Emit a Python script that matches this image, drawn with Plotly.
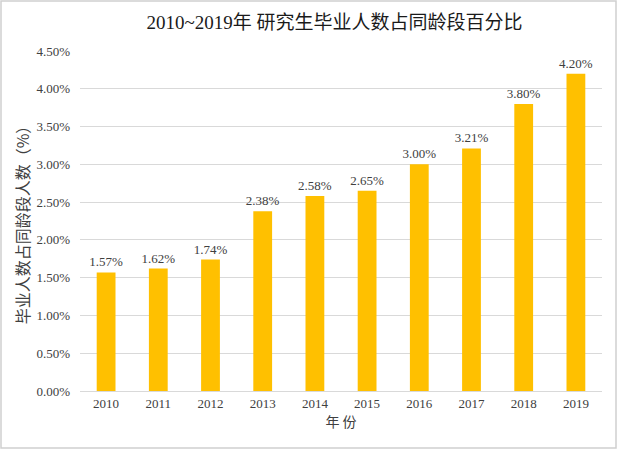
import plotly.graph_objects as go

years = ["2010", "2011", "2012", "2013", "2014", "2015", "2016", "2017", "2018", "2019"]
values = [1.57, 1.62, 1.74, 2.38, 2.58, 2.65, 3.00, 3.21, 3.80, 4.20]
labels = ["1.57%", "1.62%", "1.74%", "2.38%", "2.58%", "2.65%", "3.00%", "3.21%", "3.80%", "4.20%"]
y_ticks = [0, 0.5, 1.0, 1.5, 2.0, 2.5, 3.0, 3.5, 4.0, 4.5]
y_tick_text = ["0.00%", "0.50%", "1.00%", "1.50%", "2.00%", "2.50%", "3.00%", "3.50%", "4.00%", "4.50%"]

FONT = "Liberation Serif, Times New Roman, Noto Sans CJK SC, serif"
CJK = "Noto Sans CJK SC"

fig = go.Figure(go.Bar(
    x=years, y=values, text=labels, textposition="outside",
    textfont=dict(family=FONT, size=13, color="#404040"),
    constraintext="none",
    marker=dict(color="#FFC000", line=dict(width=0)),
    cliponaxis=False,
))

fig.update_layout(
    width=617, height=450,
    margin=dict(l=80, r=15, t=51, b=59, autoexpand=False),
    paper_bgcolor="white", plot_bgcolor="white",
    bargap=0.64,
    showlegend=False,
    title=dict(text="2010~2019年 研究生毕业人数占同龄段百分比",
               font=dict(family=FONT, size=19, color="#1a1a1a"),
               x=0.542, xanchor="center", y=1 - 22 / 450, yanchor="middle"),
    xaxis=dict(showgrid=False, showline=True, linecolor="#d9d9d9", linewidth=1,
               ticks="", automargin=False,
               tickfont=dict(family=FONT, size=13, color="#404040"),
               title=dict(text="年 份", font=dict(family=CJK, size=14, color="#404040"),
                          standoff=6)),
    yaxis=dict(range=[0, 4.5], tickvals=y_ticks, ticktext=y_tick_text,
               showgrid=True, gridcolor="#d9d9d9", gridwidth=1, zeroline=False,
               ticks="", automargin=False, ticklabelstandoff=9,
               tickfont=dict(family=FONT, size=13, color="#404040"),
               title=dict(text="毕业人数占同龄段人数（%）",
                          font=dict(family=CJK, size=16, color="#404040"),
                          standoff=2)),
    shapes=[dict(type="rect", xref="paper", yref="paper",
                 x0=-79/522, x1=1 + 14/522, y0=-57/340, y1=1 + 50/340,
                 line=dict(color="#d0d0d0", width=1.5), fillcolor="rgba(0,0,0,0)")],
)

fig.write_html("out.html", config={"displayModeBar": False},
               post_script="document.body.style.margin='0';")
